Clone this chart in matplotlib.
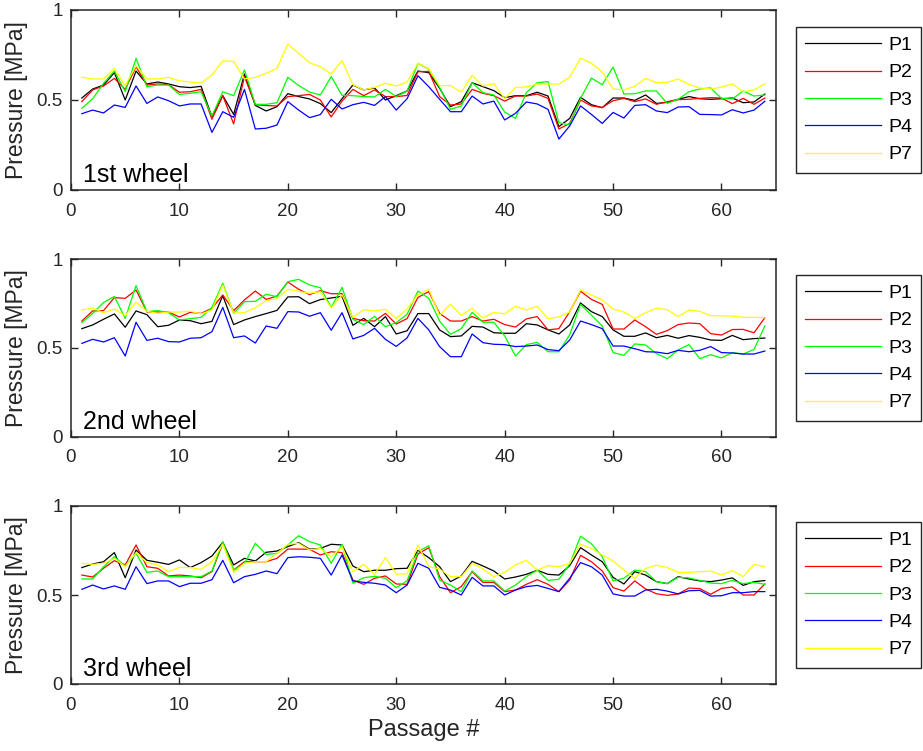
import numpy as np
import matplotlib
matplotlib.use("Agg")
import matplotlib.pyplot as plt

plt.rcParams['font.family'] = ['Liberation Sans', 'DejaVu Sans']

series_names = ["P1", "P2", "P3", "P4", "P7"]
series_colors = ["#000000", "#FF0000", "#00FF00", "#0000FF", "#FFFF00"]
panel_titles = ["1st wheel", "2nd wheel", "3rd wheel"]
x_ticks = [0, 10, 20, 30, 40, 50, 60]
y_ticks = [0, 0.5, 1]
y_tick_labels = ["0", "0.5", "1"]

# ---- 1st wheel ----
w1_P1 = [0.511, 0.561, 0.583, 0.652, 0.500, 0.661, 0.589, 0.600, 0.589, 0.574, 0.569, 0.576, 0.407, 0.524, 0.420, 0.644,
         0.470, 0.439, 0.463, 0.535, 0.519, 0.506, 0.480, 0.430, 0.507, 0.583, 0.556, 0.567, 0.500, 0.524, 0.550, 0.661,
         0.652, 0.565, 0.463, 0.491, 0.596, 0.574, 0.552, 0.513, 0.524, 0.524, 0.543, 0.522, 0.352, 0.398, 0.515, 0.474,
         0.457, 0.511, 0.511, 0.498, 0.528, 0.481, 0.487, 0.504, 0.519, 0.507, 0.504, 0.507, 0.511, 0.485, 0.489, 0.533]
w1_P2 = [0.491, 0.556, 0.578, 0.620, 0.559, 0.685, 0.583, 0.589, 0.585, 0.543, 0.546, 0.559, 0.393, 0.524, 0.367, 0.630,
         0.474, 0.469, 0.467, 0.519, 0.524, 0.531, 0.500, 0.406, 0.494, 0.559, 0.524, 0.556, 0.519, 0.519, 0.525, 0.657,
         0.659, 0.519, 0.472, 0.478, 0.559, 0.537, 0.524, 0.494, 0.522, 0.522, 0.533, 0.509, 0.339, 0.370, 0.500, 0.467,
         0.459, 0.496, 0.509, 0.491, 0.506, 0.476, 0.491, 0.502, 0.504, 0.509, 0.513, 0.511, 0.480, 0.509, 0.476, 0.511]
w1_P3 = [0.454, 0.507, 0.593, 0.661, 0.546, 0.731, 0.574, 0.583, 0.583, 0.531, 0.537, 0.546, 0.411, 0.546, 0.524, 0.667,
         0.476, 0.476, 0.485, 0.626, 0.581, 0.544, 0.528, 0.630, 0.526, 0.524, 0.519, 0.517, 0.559, 0.519, 0.550, 0.704,
         0.672, 0.570, 0.448, 0.467, 0.596, 0.541, 0.528, 0.433, 0.398, 0.541, 0.596, 0.602, 0.374, 0.361, 0.509, 0.622,
         0.585, 0.683, 0.533, 0.535, 0.550, 0.550, 0.481, 0.504, 0.546, 0.561, 0.567, 0.509, 0.506, 0.550, 0.522, 0.528]
w1_P4 = [0.424, 0.444, 0.428, 0.472, 0.459, 0.578, 0.481, 0.517, 0.496, 0.467, 0.478, 0.478, 0.320, 0.435, 0.404, 0.559,
         0.339, 0.343, 0.361, 0.491, 0.444, 0.402, 0.419, 0.504, 0.450, 0.474, 0.487, 0.470, 0.519, 0.444, 0.507, 0.635,
         0.574, 0.504, 0.435, 0.435, 0.522, 0.478, 0.494, 0.389, 0.426, 0.489, 0.478, 0.448, 0.283, 0.356, 0.467, 0.420,
         0.370, 0.431, 0.400, 0.470, 0.474, 0.439, 0.430, 0.461, 0.463, 0.420, 0.419, 0.417, 0.446, 0.428, 0.444, 0.493]
w1_P7 = [0.626, 0.617, 0.617, 0.676, 0.580, 0.690, 0.617, 0.617, 0.626, 0.607, 0.600, 0.594, 0.639, 0.717, 0.715, 0.617,
         0.626, 0.648, 0.676, 0.811, 0.759, 0.707, 0.685, 0.644, 0.719, 0.585, 0.556, 0.570, 0.593, 0.578, 0.600, 0.704,
         0.674, 0.580, 0.580, 0.544, 0.637, 0.578, 0.591, 0.507, 0.570, 0.572, 0.589, 0.589, 0.589, 0.626, 0.733, 0.704,
         0.656, 0.561, 0.556, 0.576, 0.620, 0.596, 0.598, 0.617, 0.587, 0.567, 0.561, 0.572, 0.589, 0.546, 0.556, 0.589]

# ---- 2nd wheel ----
w2_P1 = [0.609, 0.630, 0.662, 0.692, 0.617, 0.709, 0.688, 0.620, 0.628, 0.658, 0.654, 0.637, 0.650, 0.795, 0.632, 0.658,
         0.677, 0.694, 0.712, 0.788, 0.789, 0.750, 0.773, 0.782, 0.791, 0.628, 0.667, 0.620, 0.677, 0.579, 0.597, 0.694,
         0.694, 0.602, 0.564, 0.568, 0.622, 0.618, 0.586, 0.583, 0.583, 0.637, 0.630, 0.602, 0.579, 0.630, 0.754, 0.705,
         0.677, 0.602, 0.566, 0.566, 0.585, 0.558, 0.571, 0.555, 0.570, 0.560, 0.545, 0.543, 0.571, 0.547, 0.553, 0.556]
w2_P2 = [0.652, 0.709, 0.711, 0.784, 0.780, 0.827, 0.703, 0.703, 0.703, 0.675, 0.701, 0.695, 0.724, 0.799, 0.711, 0.771,
         0.821, 0.774, 0.793, 0.872, 0.831, 0.801, 0.823, 0.806, 0.806, 0.667, 0.654, 0.652, 0.695, 0.635, 0.666, 0.785,
         0.818, 0.695, 0.652, 0.652, 0.677, 0.652, 0.662, 0.632, 0.618, 0.664, 0.677, 0.602, 0.609, 0.705, 0.820, 0.774,
         0.746, 0.607, 0.607, 0.658, 0.620, 0.577, 0.598, 0.632, 0.641, 0.637, 0.581, 0.573, 0.604, 0.605, 0.586, 0.671]
w2_P3 = [0.643, 0.695, 0.756, 0.791, 0.667, 0.852, 0.705, 0.711, 0.699, 0.658, 0.665, 0.673, 0.729, 0.865, 0.695, 0.761,
         0.763, 0.803, 0.789, 0.874, 0.887, 0.855, 0.840, 0.729, 0.842, 0.662, 0.632, 0.679, 0.620, 0.643, 0.690, 0.821,
         0.780, 0.652, 0.577, 0.609, 0.701, 0.645, 0.645, 0.568, 0.455, 0.519, 0.532, 0.479, 0.479, 0.575, 0.746, 0.686,
         0.624, 0.474, 0.459, 0.523, 0.517, 0.468, 0.440, 0.489, 0.519, 0.440, 0.462, 0.444, 0.474, 0.466, 0.492, 0.624]
w2_P4 = [0.526, 0.549, 0.534, 0.558, 0.455, 0.645, 0.543, 0.555, 0.536, 0.534, 0.555, 0.558, 0.592, 0.729, 0.558, 0.568,
         0.528, 0.624, 0.611, 0.705, 0.703, 0.679, 0.699, 0.600, 0.699, 0.551, 0.571, 0.611, 0.549, 0.509, 0.557, 0.667,
         0.602, 0.508, 0.451, 0.451, 0.579, 0.530, 0.521, 0.519, 0.508, 0.511, 0.517, 0.491, 0.485, 0.545, 0.652, 0.632,
         0.609, 0.511, 0.511, 0.496, 0.479, 0.477, 0.468, 0.487, 0.479, 0.487, 0.508, 0.474, 0.472, 0.466, 0.466, 0.483]
w2_P7 = [0.714, 0.726, 0.699, 0.720, 0.682, 0.758, 0.707, 0.695, 0.703, 0.703, 0.707, 0.692, 0.714, 0.855, 0.697, 0.699,
         0.727, 0.767, 0.778, 0.831, 0.820, 0.808, 0.818, 0.727, 0.799, 0.673, 0.716, 0.709, 0.718, 0.667, 0.720, 0.800,
         0.831, 0.684, 0.748, 0.684, 0.724, 0.669, 0.701, 0.692, 0.735, 0.714, 0.735, 0.664, 0.675, 0.703, 0.827, 0.799,
         0.771, 0.720, 0.703, 0.667, 0.699, 0.724, 0.716, 0.677, 0.714, 0.707, 0.682, 0.682, 0.680, 0.673, 0.673, 0.671]

# ---- 3rd wheel ----
w3_P1 = [0.654, 0.674, 0.687, 0.738, 0.597, 0.753, 0.695, 0.684, 0.672, 0.697, 0.654, 0.682, 0.719, 0.796, 0.669, 0.706,
         0.691, 0.740, 0.747, 0.772, 0.794, 0.757, 0.762, 0.785, 0.781, 0.663, 0.631, 0.639, 0.639, 0.648, 0.650, 0.750,
         0.710, 0.659, 0.575, 0.607, 0.689, 0.663, 0.635, 0.590, 0.601, 0.616, 0.639, 0.616, 0.612, 0.665, 0.766, 0.725,
         0.687, 0.599, 0.562, 0.631, 0.612, 0.575, 0.564, 0.603, 0.590, 0.579, 0.575, 0.584, 0.596, 0.554, 0.575, 0.581]
w3_P2 = [0.612, 0.601, 0.650, 0.693, 0.669, 0.781, 0.659, 0.650, 0.607, 0.612, 0.607, 0.597, 0.631, 0.790, 0.640, 0.687,
         0.687, 0.687, 0.706, 0.758, 0.758, 0.757, 0.725, 0.743, 0.738, 0.584, 0.560, 0.594, 0.607, 0.562, 0.560, 0.730,
         0.766, 0.603, 0.513, 0.547, 0.631, 0.571, 0.571, 0.519, 0.528, 0.560, 0.586, 0.560, 0.519, 0.584, 0.723, 0.687,
         0.635, 0.541, 0.522, 0.579, 0.534, 0.507, 0.498, 0.506, 0.539, 0.536, 0.504, 0.537, 0.545, 0.500, 0.500, 0.562]
w3_P3 = [0.590, 0.590, 0.659, 0.715, 0.663, 0.734, 0.627, 0.635, 0.603, 0.603, 0.603, 0.603, 0.635, 0.800, 0.640, 0.678,
         0.790, 0.728, 0.734, 0.781, 0.833, 0.800, 0.781, 0.678, 0.785, 0.566, 0.597, 0.605, 0.594, 0.541, 0.580, 0.743,
         0.777, 0.584, 0.556, 0.519, 0.635, 0.579, 0.579, 0.522, 0.556, 0.603, 0.640, 0.582, 0.588, 0.674, 0.830, 0.788,
         0.715, 0.579, 0.594, 0.640, 0.631, 0.575, 0.564, 0.599, 0.596, 0.582, 0.567, 0.564, 0.582, 0.564, 0.571, 0.560]
w3_P4 = [0.532, 0.556, 0.534, 0.551, 0.532, 0.659, 0.564, 0.579, 0.579, 0.547, 0.566, 0.566, 0.586, 0.695, 0.569, 0.603,
         0.616, 0.635, 0.620, 0.710, 0.715, 0.712, 0.706, 0.612, 0.725, 0.579, 0.571, 0.566, 0.556, 0.513, 0.556, 0.678,
         0.650, 0.543, 0.528, 0.500, 0.599, 0.551, 0.551, 0.500, 0.528, 0.547, 0.554, 0.537, 0.519, 0.594, 0.682, 0.659,
         0.612, 0.506, 0.494, 0.494, 0.528, 0.532, 0.522, 0.506, 0.524, 0.526, 0.494, 0.496, 0.513, 0.513, 0.519, 0.519]
w3_P7 = [0.678, 0.672, 0.678, 0.706, 0.659, 0.738, 0.682, 0.669, 0.631, 0.655, 0.654, 0.644, 0.687, 0.785, 0.627, 0.678,
         0.687, 0.687, 0.734, 0.785, 0.790, 0.753, 0.762, 0.715, 0.772, 0.631, 0.672, 0.616, 0.710, 0.618, 0.618, 0.781,
         0.659, 0.646, 0.603, 0.603, 0.678, 0.646, 0.603, 0.627, 0.669, 0.695, 0.640, 0.665, 0.659, 0.678, 0.785, 0.762,
         0.725, 0.691, 0.640, 0.594, 0.650, 0.667, 0.654, 0.627, 0.627, 0.631, 0.635, 0.612, 0.637, 0.603, 0.672, 0.659]

wheels = [
    [w1_P1, w1_P2, w1_P3, w1_P4, w1_P7],
    [w2_P1, w2_P2, w2_P3, w2_P4, w2_P7],
    [w3_P1, w3_P2, w3_P3, w3_P4, w3_P7],
]

W, H = 923, 751
fig = plt.figure(figsize=(W / 100, H / 100), dpi=100)

# axes pixel boxes: (left, top, right, bottom)
boxes = [(71, 10, 775.7, 190), (71, 259.3, 775.7, 436.7), (71, 506, 775.7, 684)]
axcol = "#262626"

for k, (series, title, (l, t, r, b)) in enumerate(zip(wheels, panel_titles, boxes)):
    ax = fig.add_axes([l / W, 1 - b / H, (r - l) / W, (b - t) / H])
    for vals, name, col in zip(series, series_names, series_colors):
        xs = np.arange(1, len(vals) + 1)
        ax.plot(xs, vals, color=col, lw=0.9, label=name)
    ax.set_xlim(0, 65)
    ax.set_ylim(0, 1)
    ax.set_xticks(x_ticks)
    ax.set_yticks(y_ticks)
    ax.set_yticklabels(y_tick_labels)
    ax.tick_params(direction="in", length=5, width=1.0, colors=axcol,
                   labelsize=13.5, top=True, right=True)
    ax.tick_params(axis="x", pad=9)
    ax.tick_params(axis="y", pad=6)
    for sp in ax.spines.values():
        sp.set_color(axcol)
        sp.set_linewidth(1.1)
    ax.set_ylabel("Pressure [MPa]", fontsize=16.5, color=axcol, labelpad=6)
    ax.text(12 / (r - l), 8 / (b - t), title, transform=ax.transAxes,
            fontsize=18, color="black", va="baseline", ha="left")
    leg = ax.legend(loc="center left", bbox_to_anchor=(1 + 20.5 / (r - l), 0.5),
                    borderaxespad=0, fontsize=14, frameon=True, fancybox=False,
                    handlelength=3.9, handletextpad=0.36, borderpad=0.47,
                    labelspacing=0.5, framealpha=1)
    leg.get_frame().set_edgecolor(axcol)
    leg.get_frame().set_linewidth(1.0)
    if k == 2:
        ax.set_xlabel("Passage #", fontsize=17, color=axcol, labelpad=4)

fig.savefig("out.png", dpi=100)
